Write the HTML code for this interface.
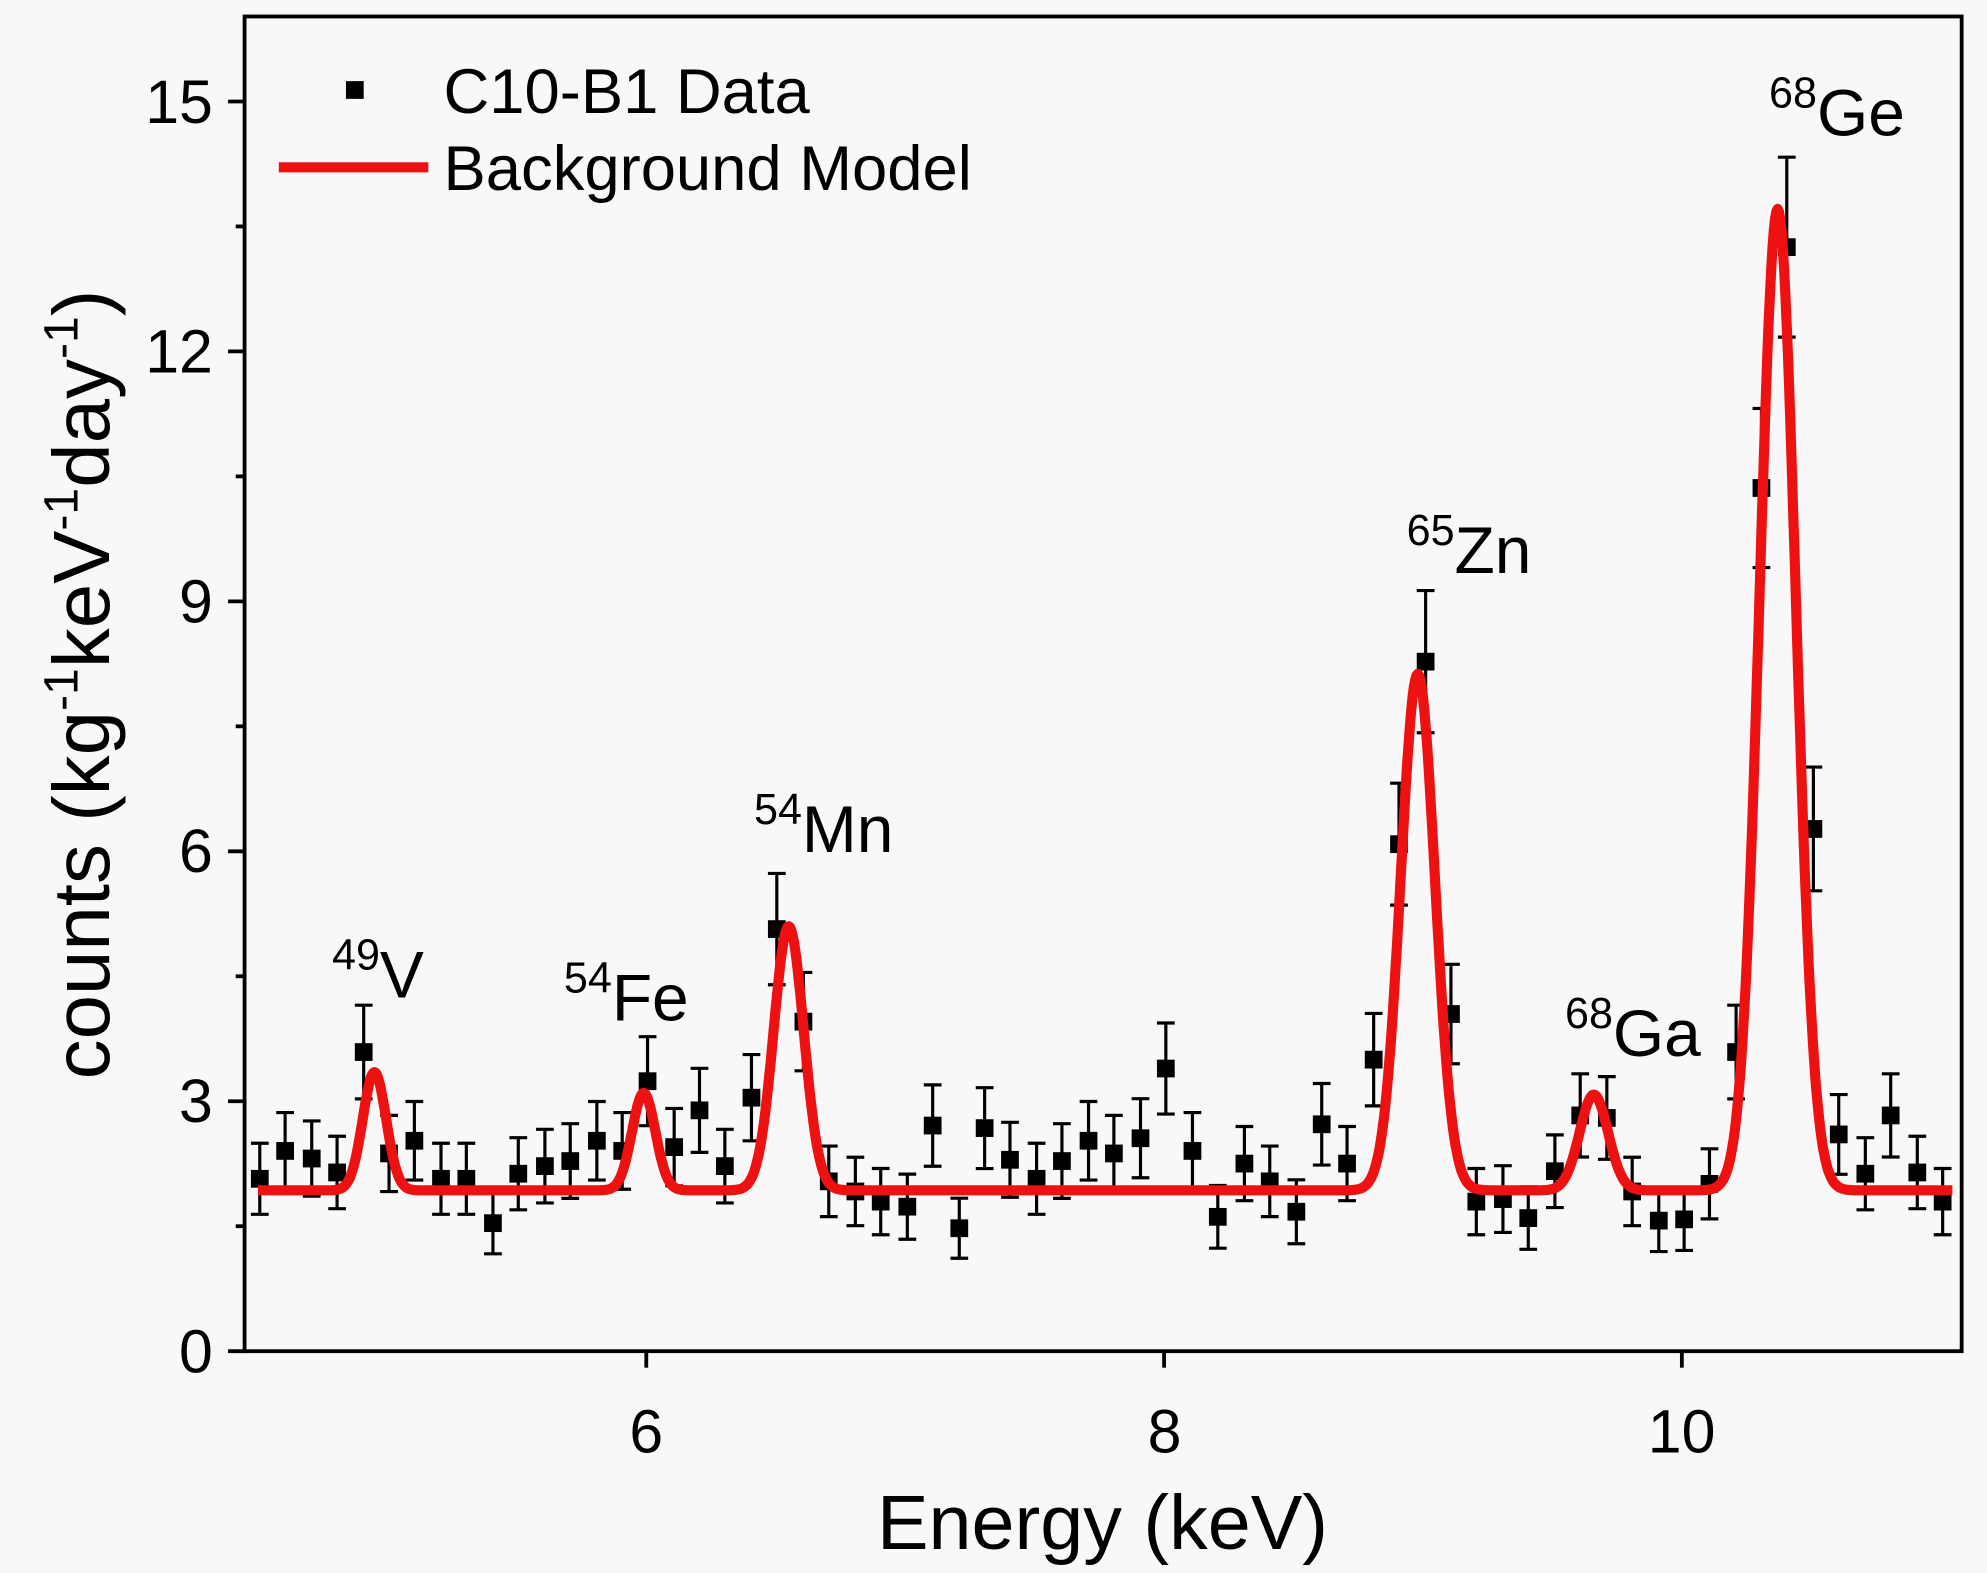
<!DOCTYPE html>
<html><head><meta charset="utf-8"><style>
html,body{margin:0;padding:0;background:#f8f8f8;}
svg{display:block}
text{font-family:"Liberation Sans",Arial,sans-serif;fill:#000}
</style></head><body>
<svg id="s" width="1987" height="1573" viewBox="0 0 1568 1241" preserveAspectRatio="none" xmlns="http://www.w3.org/2000/svg">
<rect width="1568" height="1241" fill="#f8f8f8"/>
<g id="data"></g>
<path id="model" fill="none" stroke="#ee1111" stroke-width="8" stroke-linejoin="round"/>
<rect x="193" y="13" width="1355" height="1053" fill="none" stroke="#000" stroke-width="3"/>
<g id="ticks" stroke="#000" stroke-width="3"></g>
<g font-size="48" text-anchor="end">
<text x="168" y="97">15</text><text x="168" y="294">12</text><text x="168" y="491">9</text>
<text x="168" y="688">6</text><text x="168" y="885">3</text><text x="168" y="1083">0</text>
</g>
<g font-size="48" text-anchor="middle">
<text x="510" y="1146">6</text><text x="919" y="1146">8</text><text x="1327" y="1146">10</text>
</g>
<text x="870" y="1222" font-size="61" text-anchor="middle">Energy (keV)</text>
<text transform="translate(86,540) rotate(-90)" font-size="63" text-anchor="middle">counts (kg<tspan font-size="38" dy="-25">-1</tspan><tspan dy="25">keV</tspan><tspan font-size="38" dy="-25">-1</tspan><tspan dy="25">day</tspan><tspan font-size="38" dy="-25">-1</tspan><tspan dy="25">)</tspan></text>
<rect x="273" y="64" width="14" height="14" fill="#000"/>
<text x="350" y="89" font-size="50">C10-B1 Data</text>
<line x1="220" y1="132" x2="338" y2="132" stroke="#ee1111" stroke-width="8"/>
<text x="350" y="150" font-size="50">Background Model</text>
<g font-size="52">
<text x="262" y="787"><tspan font-size="34" dy="-22">49</tspan><tspan dy="22">V</tspan></text>
<text x="445" y="805"><tspan font-size="34" dy="-22">54</tspan><tspan dy="22">Fe</tspan></text>
<text x="595" y="672"><tspan font-size="34" dy="-22">54</tspan><tspan dy="22">Mn</tspan></text>
<text x="1110" y="452"><tspan font-size="34" dy="-22">65</tspan><tspan dy="22">Zn</tspan></text>
<text x="1235" y="833"><tspan font-size="34" dy="-22">68</tspan><tspan dy="22">Ga</tspan></text>
<text x="1396" y="107"><tspan font-size="34" dy="-22">68</tspan><tspan dy="22">Ge</tspan></text>
</g>
</svg>
<script>
var NS="http://www.w3.org/2000/svg";
function el(p,n,a){var e=document.createElementNS(NS,n);for(var k in a)e.setAttribute(k,a[k]);p.appendChild(e);return e;}
var Y0=1066,PY=65.73,X6=510,PX=204.3;
function X(e){return X6+(e-6)*PX;}function Yv(v){return Y0-v*PY;}
var pts=[[205,930],[225,908],[246,914],[266,925],[287,830],[307,910],[327,900],[348,930],[368,930],[389,965],[409,926],[430,920],[450,916],[471,900],[491,908],[511,853],[532,905],[552,876],[572,920],[593,866],[613,733],[634,806],[654,932],[675,940],[695,948],[716,952],[736,888],[757,969],[777,890],[797,915],[818,930],[838,916],[859,900],[879,910],[900,898],[920,843],[941,908],[961,960],[982,918],[1002,932],[1023,956],[1043,887],[1063,918],[1084,836],[1104,666],[1125,522],[1145,800],[1165,948],[1186,946],[1206,961],[1227,924],[1247,880],[1268,882],[1288,940],[1309,963],[1329,962],[1349,934],[1370,830],[1390,385],[1410,195],[1431,654],[1451,895],[1472,926],[1492,880],[1513,925],[1533,948]];
var g=document.getElementById("data");
pts.forEach(function(p){var v=(Y0-p[1])/PY,e=19.5*Math.sqrt(v);
el(g,"line",{x1:p[0],x2:p[0],y1:p[1]-e,y2:p[1]+e,stroke:"#000","stroke-width":2.5});
el(g,"line",{x1:p[0]-7,x2:p[0]+7,y1:p[1]-e,y2:p[1]-e,stroke:"#000","stroke-width":2.5});
el(g,"line",{x1:p[0]-7,x2:p[0]+7,y1:p[1]+e,y2:p[1]+e,stroke:"#000","stroke-width":2.5});
el(g,"rect",{x:p[0]-7,y:p[1]-7,width:14,height:14,fill:"#000"});});
var pk=[[4.95,1.42,0.045],[5.99,1.17,0.045],[6.55,3.17,0.058],[8.98,6.2,0.066],[9.66,1.15,0.055],[10.37,11.78,0.07]];
var d="";for(var e=4.5;e<=11.05;e+=0.005){var v=1.93;pk.forEach(function(q){v+=q[1]*Math.exp(-Math.pow(e-q[0],2)/(2*q[2]*q[2]));});d+=(d?"L":"M")+X(e).toFixed(1)+","+Yv(v).toFixed(1);}
document.getElementById("model").setAttribute("d",d);
var t=document.getElementById("ticks");
for(var i=0;i<=10;i++){var y=Yv(i*1.5);el(t,"line",{x1:i%2?186:180,x2:193,y1:y,y2:y});}
[6,8,10].forEach(function(e){var x=X(e);el(t,"line",{x1:x,x2:x,y1:1066,y2:1079});});
</script>
</body></html>
